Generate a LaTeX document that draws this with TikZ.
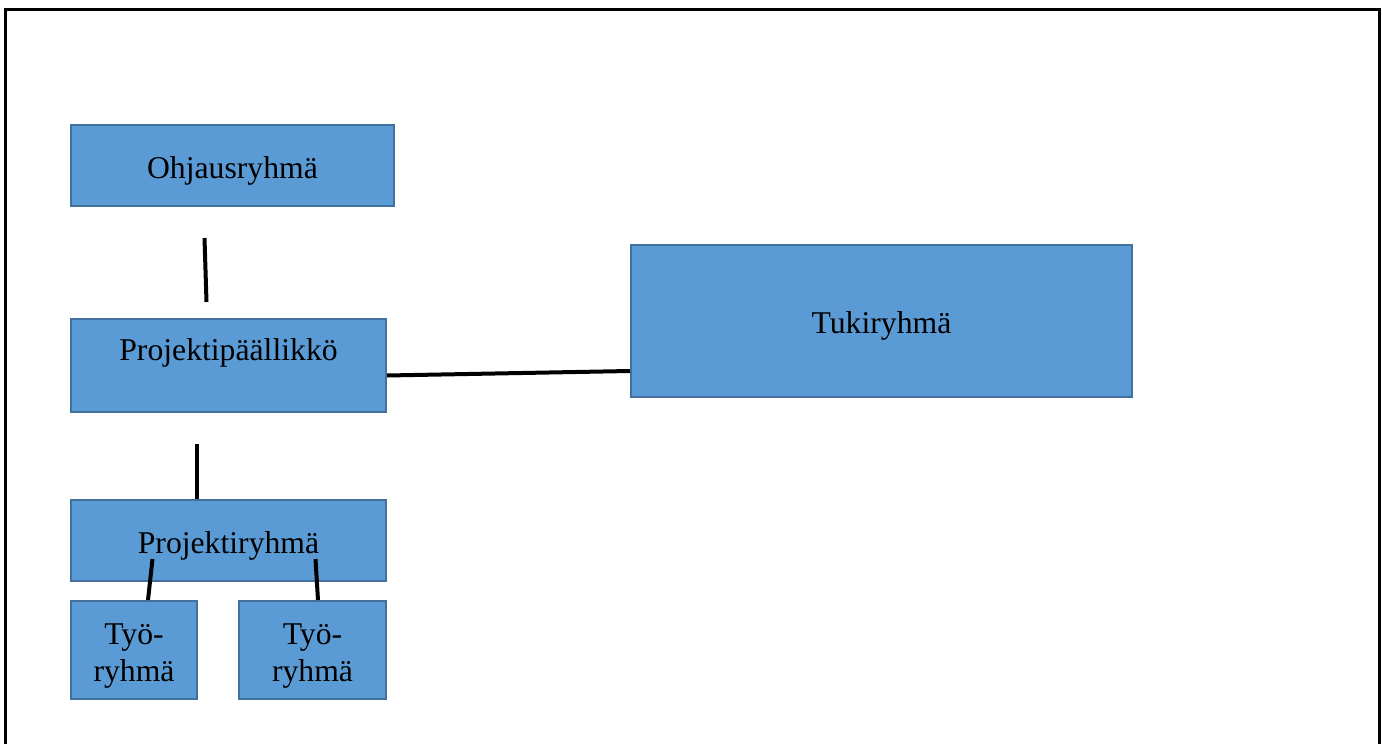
\documentclass[tikz,border=0pt]{standalone}
\usepackage{fontspec}
\setmainfont{Liberation Serif}
\usepackage{tikz}
\usetikzlibrary{positioning}
\definecolor{groupfill}{RGB}{91,155,213}
\definecolor{groupborder}{RGB}{65,113,156}
\newcommand{\topstrut}{\rule{0pt}{32pt}}
\begin{document}
\begin{tikzpicture}[
    x=1pt, y=-1pt,
    group/.style={draw=groupborder, fill=groupfill, line width=2pt, inner sep=0pt, font=\fontsize{31.7}{37}\selectfont, align=center},
    link/.style={draw, line width=4pt}
]
    \useasboundingbox (0,0) rectangle (1382,744);
    % frame
    \draw[line width=3pt] (5,744) -- (5,9) -- (1379,9) -- (1379,744);

    % groups
    \node[group, minimum width=323pt, minimum height=81pt] (ohj) at (232.5,165.5) {\topstrut Ohjausryhmä};
    \node[group, minimum width=315pt, minimum height=93pt] (pp) at (228.5,365.5) {\topstrut Projektipäällikkö\\[6pt]\mbox{}};
    \node[group, minimum width=501pt, minimum height=152pt] (tuki) at (881.5,321) {\topstrut Tukiryhmä};
    \node[group, minimum width=315pt, minimum height=81pt] (pr) at (228.5,540.5) {\topstrut Projektiryhmä};
    \node[group, minimum width=126pt, minimum height=98pt] (ty1) at (134,650) {\topstrut Työ-\\ryhmä};
    \node[group, minimum width=147pt, minimum height=98pt] (ty2) at (312.5,650) {\topstrut Työ-\\ryhmä};

    % links
    \draw[link] ([xshift=-28pt,yshift=-31pt]ohj.south) -- ([xshift=-22pt,yshift=16pt]pp.north);
    \draw[link] ([yshift=-10pt]pp.east) -- ([yshift=-50pt]tuki.west);
    \draw[link] ([xshift=-32pt,yshift=-31pt]pp.south) -- ([xshift=-32pt]pr.north);
    \draw[link] ([xshift=-76pt,yshift=23pt]pr.south) -- ([xshift=14pt]ty1.north);
    \draw[link] ([xshift=87pt,yshift=23pt]pr.south) -- ([xshift=5.5pt]ty2.north);
\end{tikzpicture}
\end{document}
